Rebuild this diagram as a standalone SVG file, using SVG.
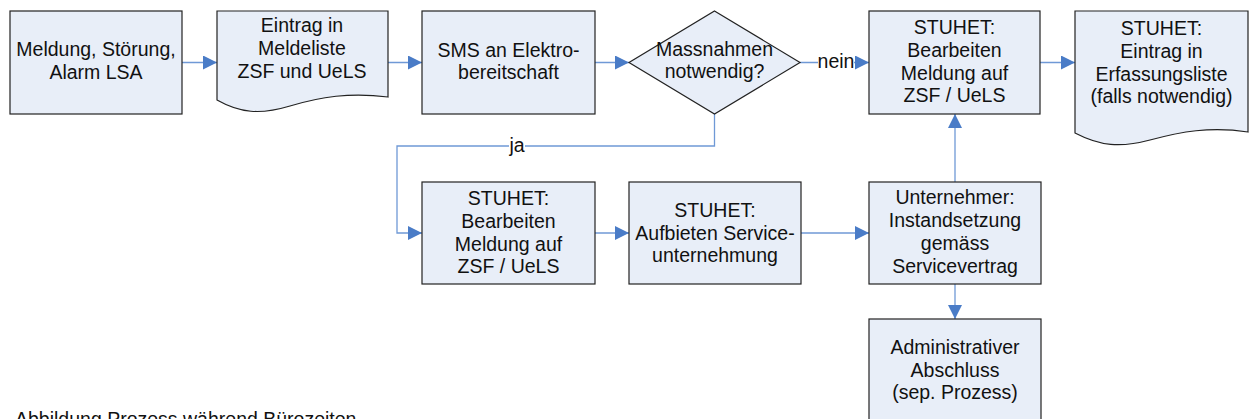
<svg xmlns="http://www.w3.org/2000/svg" width="1254" height="419" viewBox="0 0 1254 419">
<style>
.n{fill:#E8EEF8;stroke:#222;stroke-width:1.2}
.t{font-family:"Liberation Sans",Arial,sans-serif;font-size:19.5px;fill:#111;text-anchor:middle}
.c{fill:none;stroke:#6F99D6;stroke-width:1.3}
.lb{font-family:"Liberation Sans",Arial,sans-serif;font-size:19.5px;fill:#111;text-anchor:middle}
</style>
<defs>
<marker id="ah" viewBox="0 0 14 14" refX="14" refY="7" markerWidth="14" markerHeight="14" markerUnits="userSpaceOnUse" orient="auto">
<path d="M0,0 L14,7 L0,14 Z" fill="#4A7CC7"/>
</marker>
</defs>
<rect width="1254" height="419" fill="#fff"/>
<g id="connectors">
<path class="c" d="M182,62.5 H217" marker-end="url(#ah)"/>
<path class="c" d="M388,62.5 H422" marker-end="url(#ah)"/>
<path class="c" d="M595,62.5 H629" marker-end="url(#ah)"/>
<path class="c" d="M800,62.5 H869" marker-end="url(#ah)"/>
<path class="c" d="M1040,62.5 H1075" marker-end="url(#ah)"/>
<path class="c" d="M714.5,114 V146 H397 V233 H422" marker-end="url(#ah)"/>
<path class="c" d="M595,233 H629" marker-end="url(#ah)"/>
<path class="c" d="M801,233 H869" marker-end="url(#ah)"/>
<path class="c" d="M955,182 V114" marker-end="url(#ah)"/>
<path class="c" d="M955,284 V319" marker-end="url(#ah)"/>
<rect x="818" y="52" width="36" height="20" fill="#fff"/>
<text class="lb" x="836" y="68">nein</text>
<rect x="509" y="138" width="16" height="18" fill="#fff"/>
<text class="lb" x="517" y="152">ja</text>
</g>
<g id="n1">
<rect class="n" x="10" y="11" width="172" height="103"/>
<text class="t" x="96" y="56">Meldung, Störung,</text>
<text class="t" x="96" y="79">Alarm LSA</text>
</g>
<g id="n2">
<path class="n" d="M217,11 H388 V97 C350,92 320,97 290,106 C260,115 240,113 217,100 Z"/>
<text class="t" x="302" y="32">Eintrag in</text>
<text class="t" x="302" y="55">Meldeliste</text>
<text class="t" x="302" y="78">ZSF und UeLS</text>
</g>
<g id="n3">
<rect class="n" x="422" y="11" width="173" height="103"/>
<text class="t" x="508.5" y="57">SMS an Elektro-</text>
<text class="t" x="508.5" y="79">bereitschaft</text>
</g>
<g id="n4">
<path class="n" d="M714.5,11 L800,62.5 L714.5,114 L629,62.5 Z"/>
<text class="t" x="714.5" y="56">Massnahmen</text>
<text class="t" x="714.5" y="78">notwendig?</text>
</g>
<g id="n5">
<rect class="n" x="869" y="11" width="171" height="103"/>
<text class="t" x="954.5" y="34">STUHET:</text>
<text class="t" x="954.5" y="57">Bearbeiten</text>
<text class="t" x="954.5" y="80">Meldung auf</text>
<text class="t" x="954.5" y="102">ZSF / UeLS</text>
</g>
<g id="n6">
<path class="n" d="M1075,11 H1248 V132 C1210,126 1180,132 1150,140 C1120,148 1100,146 1075,133 Z"/>
<text class="t" x="1161.5" y="35">STUHET:</text>
<text class="t" x="1161.5" y="58">Eintrag in</text>
<text class="t" x="1161.5" y="81">Erfassungsliste</text>
<text class="t" x="1161.5" y="103">(falls notwendig)</text>
</g>
<g id="n7">
<rect class="n" x="422" y="182" width="173" height="102"/>
<text class="t" x="508.5" y="205">STUHET:</text>
<text class="t" x="508.5" y="228">Bearbeiten</text>
<text class="t" x="508.5" y="251">Meldung auf</text>
<text class="t" x="508.5" y="273">ZSF / UeLS</text>
</g>
<g id="n8">
<rect class="n" x="629" y="182" width="172" height="102"/>
<text class="t" x="715" y="217">STUHET:</text>
<text class="t" x="715" y="240">Aufbieten Service-</text>
<text class="t" x="715" y="262">unternehmung</text>
</g>
<g id="n9">
<rect class="n" x="869" y="182" width="172" height="102"/>
<text class="t" x="955" y="204">Unternehmer:</text>
<text class="t" x="955" y="227">Instandsetzung</text>
<text class="t" x="955" y="250">gemäss</text>
<text class="t" x="955" y="273">Servicevertrag</text>
</g>
<g id="n10">
<rect class="n" x="869" y="319" width="172" height="104"/>
<text class="t" x="955" y="354">Administrativer</text>
<text class="t" x="955" y="377">Abschluss</text>
<text class="t" x="955" y="399">(sep. Prozess)</text>
</g>
<text x="15" y="426" style="font-family:'Liberation Sans',Arial,sans-serif;font-size:19.5px;fill:#111">Abbildung Prozess während Bürozeiten</text>
</svg>
